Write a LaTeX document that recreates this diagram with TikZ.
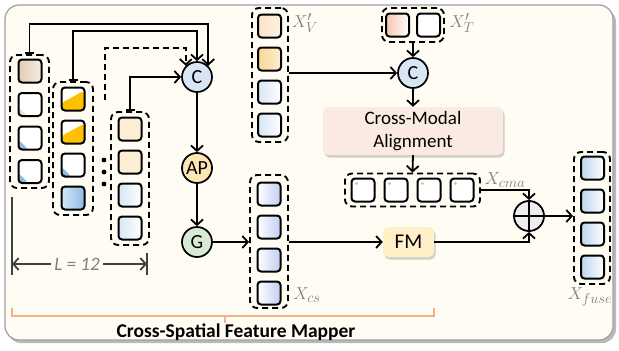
\documentclass[tikz,border=0pt]{standalone}
\usepackage{fontspec}
\setmainfont{Carlito}
\usetikzlibrary{arrows.meta,shadows,calc}
\definecolor{bgc}{HTML}{FFFCF3}
\definecolor{labgray}{HTML}{808080}
\definecolor{tanA}{HTML}{E3CBB2}
\definecolor{orng}{HTML}{FFC000}
\definecolor{bmid}{HTML}{8FBAE3}
\definecolor{lblue}{HTML}{D6E6F6}
\definecolor{cream}{HTML}{FCEDD5}
\definecolor{xvone}{HTML}{FBE3C6}
\definecolor{xvtwo}{HTML}{F9D796}
\definecolor{pinkc}{HTML}{F6C6B0}
\definecolor{lav}{HTML}{C4CCF0}
\definecolor{fblue}{HTML}{BCD5EE}
\definecolor{cfill}{HTML}{D8E5F5}
\definecolor{apfill}{HTML}{FDE6B6}
\definecolor{gfill}{HTML}{D7EAD4}
\definecolor{cmafill}{HTML}{FBEAE1}
\definecolor{fmfill}{HTML}{FFF0C8}
\definecolor{brc}{HTML}{F4B183}
\definecolor{dimc}{HTML}{404040}
\begin{document}
\begin{tikzpicture}[x=1pt,y=-1pt,
 cell/.style={draw, line width=2pt, rounded corners=3.5pt, minimum width=23pt, minimum height=23pt, inner sep=0pt, fill=white},
 grp/.style={draw, dash pattern=on 6pt off 4pt, line width=1.9pt, rounded corners=7pt, inner sep=0pt},
 circ/.style={circle, draw, line width=1.7pt, minimum size=30pt, inner sep=0pt, font=\fontsize{20}{20}\selectfont},
 tip/.style={-{Straight Barb[length=5.5pt,width=12pt,line width=1.8pt]}},
 arr/.style={line width=1.8pt, tip},
 barr/.style={line width=1.8pt, {Bar[width=9pt,line width=1.8pt]}-{Straight Barb[length=5.5pt,width=12pt,line width=1.8pt]}},
 lab/.style={text=labgray, font=\fontsize{19}{22}\selectfont, inner sep=0pt},
 bcorner/.style={path picture={\fill[bmid] (path picture bounding box.south west) -- ++(10pt,0pt) -- ++(-10pt,10pt) -- cycle;}},
 tcorner/.style={path picture={\fill[tanA!60] (path picture bounding box.south west) -- ++(9pt,0pt) -- ++(-9pt,9pt) -- cycle;}},
 ocut/.style={path picture={\fill[orng] (path picture bounding box.south west) -- (path picture bounding box.south east) -- ([yshift=-3pt]path picture bounding box.north east) -- ([yshift=-4pt]path picture bounding box.west) -- cycle;}},
 gdot/.style={path picture={\fill[green!60!black!35] ([xshift=5pt,yshift=-5pt]path picture bounding box.north west) circle (1.6pt);}},
 shbox/.style={rounded corners=5pt, drop shadow={shadow xshift=1.5pt, shadow yshift=-2.5pt, opacity=0.35}},
]
\useasboundingbox (0,0) rectangle (619,351);
% background frame
\fill[gray!55, rounded corners=14pt] (7,8) rectangle (616,343);
\filldraw[fill=bgc, draw=gray!75, line width=1.2pt, rounded corners=14pt] (5,5) rectangle (613,340);

% column A
\node[grp, minimum width=39pt, minimum height=133pt] (gA) at (29.5,121.5) {};
\node[cell, left color=tanA, right color=tanA!35] (a1) at (30,71) {};
\node[cell, tcorner] (a2) at (30,104.5) {};
\node[cell, bcorner] (a3) at (30,138) {};
\node[cell, bcorner] (a4) at (30,171.5) {};
% column B
\node[grp, minimum width=40pt, minimum height=133pt] (gB) at (73,148.5) {};
\node[cell, ocut] (b1) at (73,99) {};
\node[cell, ocut] (b2) at (73,132) {};
\node[cell, bcorner] (b3) at (73,165) {};
\node[cell, left color=lblue, right color=bmid] (b4) at (73,198) {};
% dots
\fill (104,160) circle (2.4pt) (104,172) circle (2.4pt) (104,184) circle (2.4pt);
% column C
\node[grp, minimum width=38pt, minimum height=133pt] (gC) at (130,178.5) {};
\node[cell, fill=cream] (c1) at (130,129) {};
\node[cell, fill=cream] (c2) at (130,162) {};
\node[cell, left color=lblue, right color=white] (c3) at (130,195) {};
\node[cell, left color=lblue, right color=white] (c4) at (130,228) {};

% operators
\node[circ, fill=cfill] (C) at (197,77) {C};
\node[circ, fill=apfill] (AP) at (197,168) {AP};
\node[circ, fill=gfill] (G) at (197,242) {G};

\coordinate (dstart) at (105,100);
\draw[barr] (gA.north) -- ++(0,-30) -| (C.45);
\draw[barr] (gB.north) -- ++(0,-50) -| (C.north);
\draw[arr, dash pattern=on 6pt off 4pt] (dstart) -- ++(0,-52) -| (C.135);
\draw[barr] (gC.north) |- (C.west);
\draw[arr] (C) -- (AP);
\draw[arr] (AP) -- (G);

% X_cs
\node[grp, minimum width=38pt, minimum height=133pt] (gS) at (269,241.5) {};
\foreach \i/\y in {1/194,2/227,3/260,4/293}
  \node[cell, left color=white, right color=lav] (s\i) at (269,\y) {};
\node[lab] (lS) at (307,295) {$X_{cs}$};
\draw[arr] (G) -- (G -| gS.west);

% X'_V
\node[grp, minimum width=36pt, minimum height=134pt] (gV) at (270,75) {};
\node[cell, left color=xvone, right color=xvone!50] (v1) at (269.5,26) {};
\node[cell, left color=xvtwo, right color=xvtwo!45] (v2) at (269.5,59) {};
\node[cell, left color=lblue, right color=white] (v3) at (269.5,92) {};
\node[cell, left color=lblue, right color=white] (v4) at (269.5,125) {};
\node[lab] (lV) at (305,23) {$X'_{V}$};

% X'_T
\node[grp, minimum width=62pt, minimum height=34pt] (gT) at (413,25) {};
\node[cell, left color=pinkc, right color=white] (t1) at (397.5,25) {};
\node[cell] (t2) at (428.5,25) {};
\node[lab] (lT) at (462,23) {$X'_{T}$};

\node[circ, fill=cfill] (C2) at (413,73) {C};
\draw[arr] (gV.east |- C2) -- (C2);
\draw[arr] (gT.south) -- (C2.north);

\node[shbox, fill=cmafill, minimum width=180pt, minimum height=48pt, align=center, font=\fontsize{19}{23}\selectfont] (CMA) at (413,131) {Cross-Modal\\Alignment};
\draw[arr] (C2) -- (CMA.north);

% X_cma
\node[grp, minimum width=135pt, minimum height=33pt] (gM) at (412.5,190) {};
\foreach \i/\x in {1/363,2/396,3/429,4/462}
  \node[cell, gdot] (m\i) at (\x,190) {};
\node[lab] (lM) at (505,180) {$X_{cma}$};
\draw[arr] (CMA.south) -- (gM.north);

% FM and fusion
\node[shbox, fill=fmfill, minimum width=51pt, minimum height=30pt, font=\fontsize{21}{22}\selectfont] (FM) at (408.5,242) {FM};
\node[circle, draw, line width=1.8pt, minimum size=30pt, fill=gray!14, inner sep=0pt] (P) at (529,216) {};
\draw[line width=1.8pt] (P.north) -- (P.south) (P.west) -- (P.east);
\draw[arr] (gS.east |- FM) -- (FM.west);
\draw[arr] (gM.east) -| (P.north);
\draw[arr] (FM.east) -| (P.south);

% X_fuse
\node[grp, minimum width=36pt, minimum height=132pt] (gF) at (592,218) {};
\foreach \i/\y in {1/168,2/201,3/234,4/267}
  \node[cell, left color=fblue, right color=white] (f\i) at (592.5,\y) {};
\node[lab] (lF) at (590,297) {$X_{fuse}$};
\draw[arr] (P.east) -- (P -| gF.west);

% dimension L = 12
\coordinate (d1) at (12,197);
\coordinate (d2) at (12,275);
\coordinate (d3) at (147,253);
\coordinate (d4) at (147,275);
\draw[line width=1.8pt, dimc] (d1) -- (d2) (d3) -- (d4);
\node[text=labgray, font=\fontsize{19}{20}\selectfont\itshape] (Ltxt) at (77,264) {L = 12};
\draw[line width=1.8pt, dimc, tip] (Ltxt.west) -- (Ltxt.west -| d1);
\draw[line width=1.8pt, dimc, tip] (Ltxt.east) -- (Ltxt.east -| d3);

% bracket
\coordinate (k1) at (12,308);
\coordinate (k2) at (434,308);
\coordinate (kt) at (225,316);
\draw[brc, line width=1.6pt] (k1) -- (12,316) -- (434,316) -- (k2);
\draw[brc, line width=1.6pt] (kt) -- ++(0,7);
\node[font=\fontsize{19.5}{22}\selectfont\bfseries] (cap) at (236,332) {Cross-Spatial Feature Mapper};
\end{tikzpicture}
\end{document}
